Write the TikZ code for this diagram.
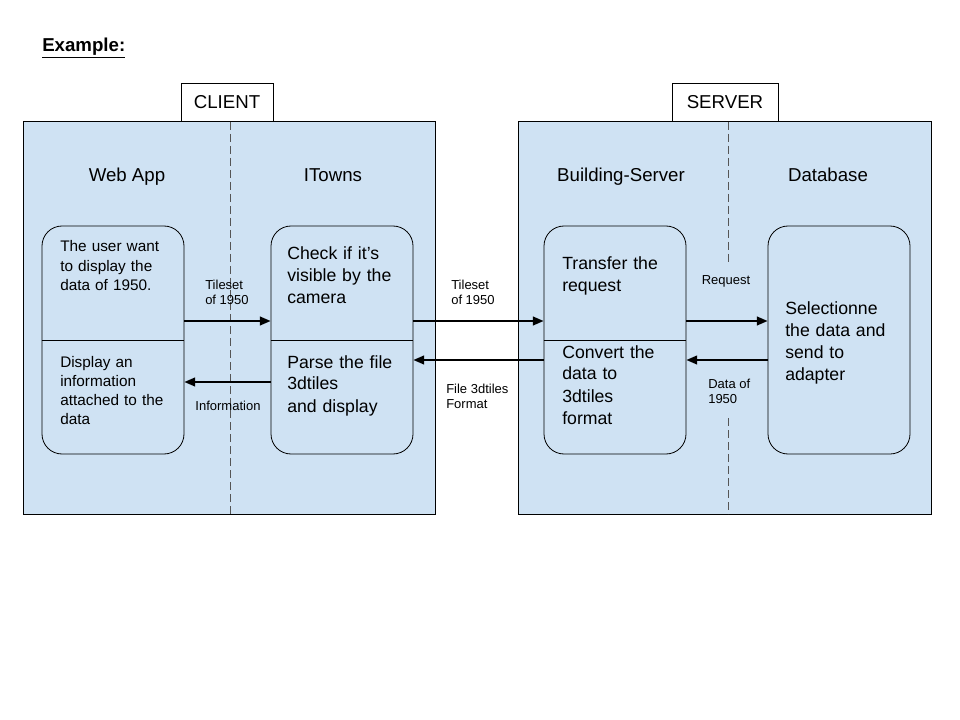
\documentclass[tikz,border=0pt]{standalone}
\usepackage{fontspec}
\setmainfont{Liberation Sans}
\usetikzlibrary{arrows.meta}

\definecolor{paleblue}{HTML}{CFE2F3}
\definecolor{dashgray}{HTML}{555555}

\tikzset{
  tier/.style={draw=black, fill=paleblue, line width=0.75pt, minimum width=309.5pt, minimum height=294pt},
  tab/.style={draw=black, fill=white, line width=0.75pt, minimum width=#1, minimum height=28.5pt, inner sep=0pt,
    font=\fontsize{14}{16}\selectfont},
  proc/.style={draw=black, rounded corners=15pt, line width=0.6pt, minimum width=106.5pt, minimum height=171pt},
  head/.style={anchor=base, inner sep=0pt, font=\fontsize{14}{16}\selectfont},
  small/.style={anchor=base west, inner sep=0pt, align=left, text width=100pt, font=\fontsize{11.5}{14.5}\selectfont},
  big/.style={anchor=base west, inner sep=0pt, align=left, text width=100pt, font=\fontsize{13.25}{16.5}\selectfont},
  lbl/.style={inner sep=0pt, align=left, font=\fontsize{9.75}{11.25}\selectfont},
  flow/.style={line width=1.4pt, -{Triangle[length=8pt,width=6.5pt]}},
  split/.style={dashgray, line width=0.6pt, dash pattern=on 6pt off 3pt}
}

\begin{document}
\begin{tikzpicture}[x=0.75pt, y=-0.75pt]
	\useasboundingbox (0,0) rectangle (960,720);

	\node[anchor=base west, inner sep=0pt, font=\fontsize{14}{16}\selectfont\bfseries] (ex) at (42,51.7) {\underline{Example:}};

	\node[tier] (client) at (229.5,318) {};
	\node[tier] (server) at (725,318) {};
	\node[tab=69pt] (clienttab) at (227,102.5) {CLIENT};
	\node[tab=79.5pt] (servertab) at (725,102.5) {SERVER};

	\coordinate (cdtop) at (230,122);
	\coordinate (cdbot) at (230,514);
	\coordinate (sdtop) at (728,122);
	\coordinate (sdmid1) at (728,263);
	\coordinate (sdmid2) at (728,418);
	\coordinate (sdbot) at (728,514);
	\draw[split] (cdtop) -- (cdbot);
	\draw[split] (sdtop) -- (sdmid1);
	\draw[split] (sdmid2) -- (sdbot);

	\node[head] (webapp) at (127,181.7) {Web App};
	\node[head] (itowns) at (333,181.7) {ITowns};
	\node[head] (bserver) at (621,181.7) {Building-Server};
	\node[head] (dbase) at (828,181.7) {Database};

	\node[proc] (usr) at (113,340) {};
	\node[proc] (itw) at (342,340) {};
	\node[proc] (bsv) at (615,340) {};
	\node[proc] (dbs) at (839,340) {};
	\draw[line width=0.6pt] (usr.west) -- (usr.east);
	\draw[line width=0.6pt] (itw.west) -- (itw.east);
	\draw[line width=0.6pt] (bsv.west) -- (bsv.east);

	\node[small] (usrtop) at (60,252) {The user want\\to display the\\data of 1950.};
	\node[small] (usrbot) at (60,367) {Display an\\information\\attached to the\\data};
	\node[big] (itwtop) at (287,260) {Check if it’s\\visible by the\\camera};
	\node[big] (itwbot) at (287,368) {Parse the file\\3dtiles\\and display};
	\node[big] (bsvtop) at (562,270) {Transfer the\\request};
	\node[big] (bsvbot) at (562,358) {Convert the\\data to\\3dtiles\\format};
	\node[big] (dbstext) at (785,315) {Selectionne\\the data and\\send to\\adapter};

	\coordinate (rowgo) at (0,321);
	\coordinate (rowback) at (0,382);
	\coordinate (rowret) at (0,360);
	\draw[flow] (usr.east |- rowgo) -- (itw.west |- rowgo);
	\draw[flow] (itw.west |- rowback) -- (usr.east |- rowback);
	\draw[flow] (itw.east |- rowgo) -- (bsv.west |- rowgo);
	\draw[flow] (bsv.west |- rowret) -- (itw.east |- rowret);
	\draw[flow] (bsv.east |- rowgo) -- (dbs.west |- rowgo);
	\draw[flow] (dbs.west |- rowret) -- (bsv.east |- rowret);

	\node[lbl, anchor=base west] (tilesetc) at (205,305) {Tileset\\of 1950};
	\node[lbl, anchor=base] (info) at (228,410) {Information};
	\node[lbl, anchor=base west] (tilesets) at (451,305) {Tileset\\of 1950};
	\node[lbl, anchor=base west] (filefmt) at (446,408) {File 3dtiles\\Format};
	\node[lbl, anchor=base] (request) at (726,285) {Request};
	\node[lbl, anchor=base west] (dataof) at (708,403) {Data of\\1950};
\end{tikzpicture}
\end{document}
